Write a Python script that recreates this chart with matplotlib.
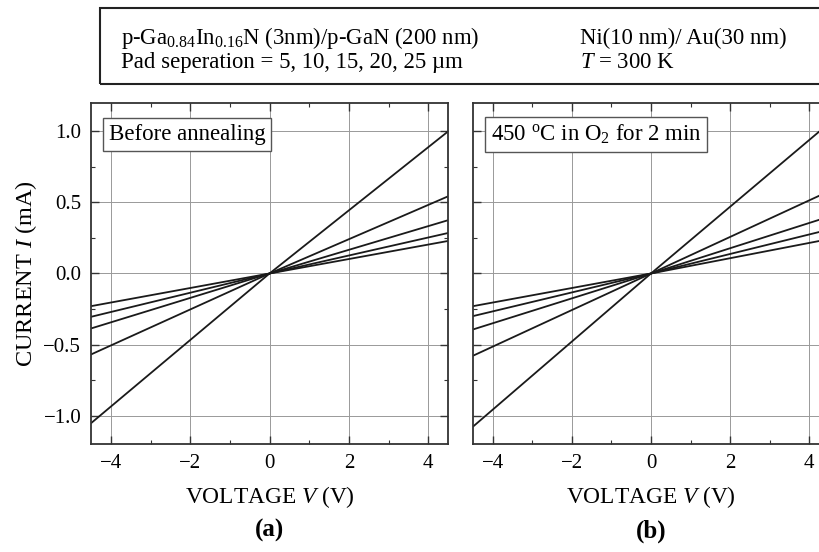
import matplotlib
matplotlib.use("Agg")
import matplotlib.pyplot as plt
from matplotlib.patches import Rectangle
from matplotlib.ticker import MultipleLocator

plt.rcParams['font.family'] = ['Liberation Serif', 'DejaVu Serif']
plt.rcParams['mathtext.fontset'] = 'custom'
plt.rcParams['mathtext.rm'] = 'Liberation Serif'
plt.rcParams['mathtext.it'] = 'Liberation Serif:italic'

# Voltage points (V) and currents (mA) for the five pad separations
voltage = [-4.5, 0.0, 4.5]

# (a) before annealing: 5, 10, 15, 20, 25 um
current_a = [
    [-1.054, 0.0, 1.00],
    [-0.570, 0.0, 0.543],
    [-0.387, 0.0, 0.375],
    [-0.305, 0.0, 0.285],
    [-0.230, 0.0, 0.229],
]

# (b) 450 C in O2 for 2 min
current_b = [
    [-1.078, 0.0, 1.057],
    [-0.579, 0.0, 0.579],
    [-0.394, 0.0, 0.400],
    [-0.300, 0.0, 0.309],
    [-0.230, 0.0, 0.242],
]

panel_labels = ['Before annealing', '450 $^{\\rm o}$C in O$_2$ for 2 min']
letters = ['(a)', '(b)']

fig = plt.figure(figsize=(8.19, 5.52), dpi=100)

ax_a = fig.add_axes([0.1111, 0.1957, 0.436, 0.6177])
ax_b = fig.add_axes([0.5775, 0.1957, 0.4347, 0.6177])

for ax, data, label, letter in zip([ax_a, ax_b], [current_a, current_b], panel_labels, letters):
    for curve in data:
        ax.plot(voltage, curve, color='#1a1a1a', linewidth=1.3)
    ax.set_xlim(-4.5, 4.5)
    ax.set_ylim(-1.2, 1.2)
    ax.xaxis.set_major_locator(MultipleLocator(2))
    ax.xaxis.set_minor_locator(MultipleLocator(1))
    ax.yaxis.set_major_locator(MultipleLocator(0.5))
    ax.yaxis.set_minor_locator(MultipleLocator(0.25))
    ax.grid(True, which='major', color='#999999', linewidth=0.7)
    ax.tick_params(which='both', direction='in', top=True, right=True, labelsize=15, color='#333333')
    ax.tick_params(which='major', length=6, width=1.0, pad=7)
    ax.tick_params(which='minor', length=3, width=0.8)
    for s in ax.spines.values():
        s.set_linewidth(1.3)
        s.set_color('#333333')
    ax.set_xlabel('VOLTAGE $\\it{V}$ (V)', fontsize=16.8, labelpad=8)
    ax.text(0.05, 0.908, label, transform=ax.transAxes, fontsize=16.5, va='center', ha='left',
            bbox=dict(boxstyle='square,pad=0.25', facecolor='white', edgecolor='#555555', linewidth=1.0))
    ax.text(0.5, -0.255, letter, transform=ax.transAxes, fontsize=18, fontweight='bold',
            ha='center', va='center')

ax_a.yaxis.set_major_formatter(plt.FuncFormatter(lambda v, p: f'{v:.1f}'.replace('-', '\u2212')))
ax_a.set_ylabel('CURRENT $\\it{I}$ (mA)', fontsize=17.5, labelpad=3)
ax_b.tick_params(labelleft=False)

# Header box with sample description
fig.patches.append(Rectangle((0.1221, 0.8478), 0.95, 0.1377, transform=fig.transFigure,
                             fill=False, edgecolor='#222222', linewidth=1.5, clip_on=False))
fig.text(0.148, 0.931, 'p-Ga$_{0.84}$In$_{0.16}$N (3nm)/p-GaN (200 nm)', fontsize=16.4, va='center')
fig.text(0.148, 0.887, 'Pad seperation = 5, 10, 15, 20, 25 \u00b5m', fontsize=16.4, va='center')
fig.text(0.708, 0.931, 'Ni(10 nm)/ Au(30 nm)', fontsize=16.4, va='center')
fig.text(0.708, 0.887, '$\\it{T}$ = 300 K', fontsize=16.4, va='center')

fig.savefig('out.png', dpi=100)
